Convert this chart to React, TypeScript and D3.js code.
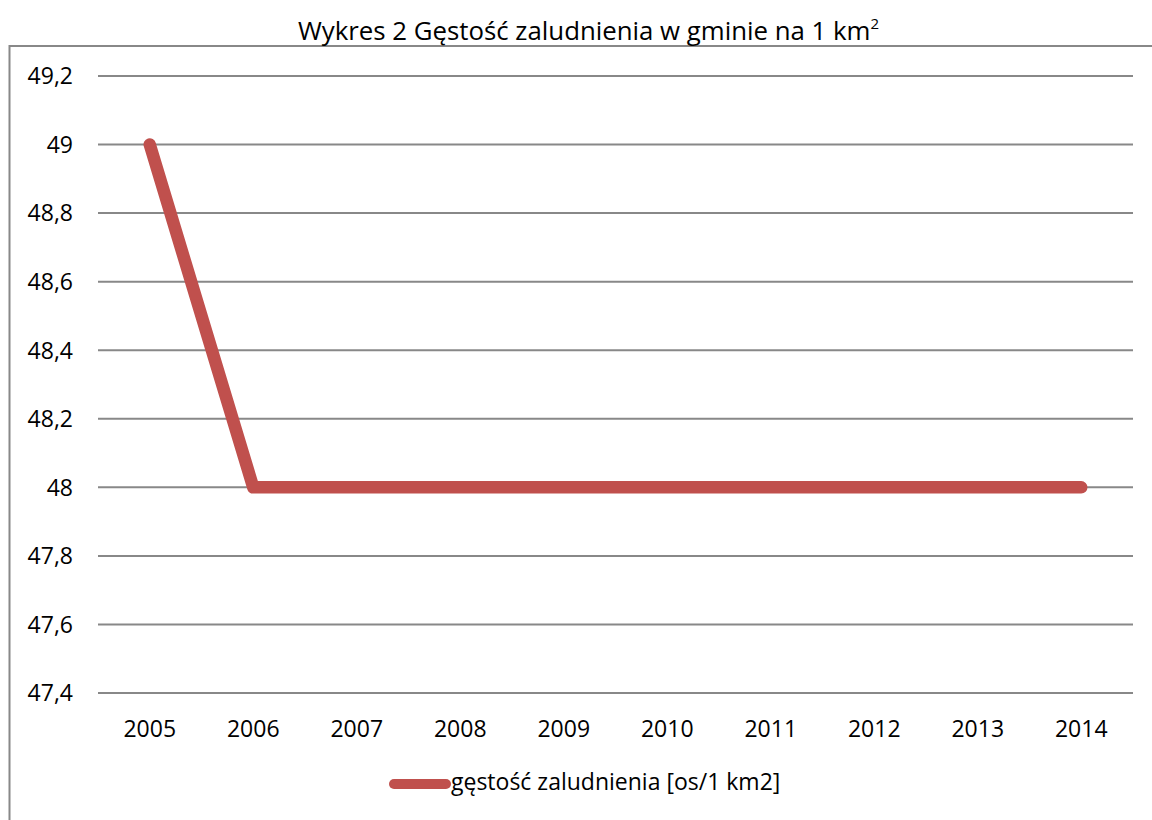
import * as d3 from "d3";

const years = ["2005", "2006", "2007", "2008", "2009", "2010", "2011", "2012", "2013", "2014"];
const density = [49, 48, 48, 48, 48, 48, 48, 48, 48, 48];
const yTicks = [47.4, 47.6, 47.8, 48, 48.2, 48.4, 48.6, 48.8, 49, 49.2];

const seriesName = "gęstość zaludnienia [os/1 km2]";
const titleMain = "Wykres 2 Gęstość zaludnienia w gminie na 1 km";

const width = 1152;
const height = 820;
const font = "'Open Sans', sans-serif";
const red = "#c0504d";
const grid = "#888888";

export default function App() {
  const x = d3.scaleBand<string>().domain(years).range([98, 1133]).padding(0);
  const y = d3.scaleLinear().domain([47.4, 49.2]).range([693, 76]);

  const line = d3
    .line<number>()
    .x((_, i) => (x(years[i]) ?? 0) + x.bandwidth() / 2)
    .y((d) => y(d));

  const fmt = (v: number) => d3.format("~g")(+v.toFixed(1)).replace(".", ",");

  return (
    <svg
      width={width}
      height={height}
      style={{ position: "fixed", left: 0, top: 0, background: "#fff" }}
      fontFamily={font}
    >
      {/* chart frame, cut off at right and bottom */}
      <rect x={9.5} y={46} width={1200} height={850} fill="none" stroke={grid} strokeWidth={2} />

      <text x={298} y={40} fontSize={25.8} fill="#000">
        {titleMain}
        <tspan dy={-11} fontSize={15}>2</tspan>
      </text>

      {yTicks.map((t) => (
        <g key={t}>
          <line x1={98} x2={1133} y1={y(t)} y2={y(t)} stroke={grid} strokeWidth={2} />
          <text x={73} y={y(t)} dy="0.36em" textAnchor="end" fontSize={23} fill="#000">
            {fmt(t)}
          </text>
        </g>
      ))}

      {years.map((yr) => (
        <text
          key={yr}
          x={(x(yr) ?? 0) + x.bandwidth() / 2}
          y={737}
          textAnchor="middle"
          fontSize={23}
          fill="#000"
        >
          {yr}
        </text>
      ))}

      <path
        d={line(density) ?? ""}
        fill="none"
        stroke={red}
        strokeWidth={12.5}
        strokeLinecap="round"
        strokeLinejoin="round"
      />

      <line x1={394} x2={446} y1={784} y2={784} stroke={red} strokeWidth={10} strokeLinecap="round" />
      <text x={451} y={790} fontSize={23} fill="#000">
        {seriesName}
      </text>
    </svg>
  );
}
